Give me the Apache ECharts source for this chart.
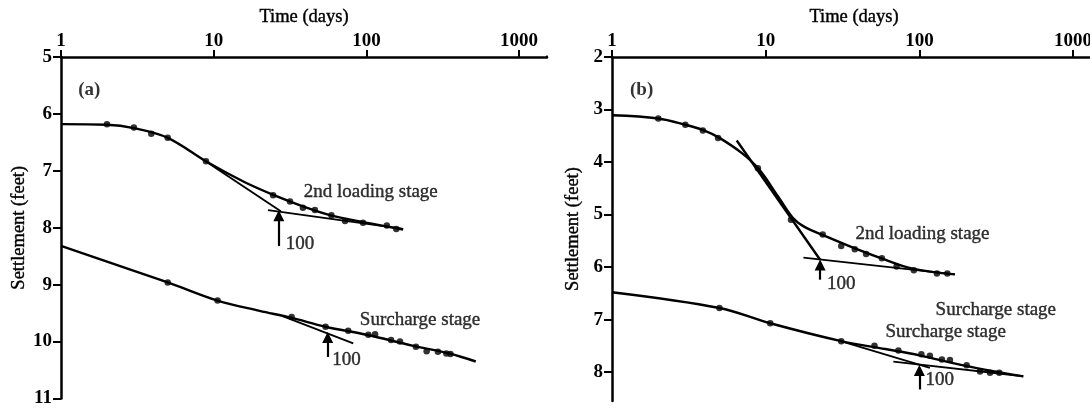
<!DOCTYPE html>
<html><head><meta charset="utf-8">
<script src="https://cdn.jsdelivr.net/npm/echarts@6/dist/echarts.min.js"></script>
<style>html,body{margin:0;padding:0;background:#fff;overflow:hidden}#c{width:1100px;height:408px}</style>
</head><body><div id="c"></div>
<script>
// ---------- Panel (a) ----------
const aUpperT = [2, 3, 3.9, 5, 8.9, 24.5, 31.6, 38.4, 46, 59, 72.5, 95, 136, 157];
const aUpperY = [6.18, 6.24, 6.35, 6.42, 6.83, 7.43, 7.54, 7.65, 7.69, 7.78, 7.88, 7.91, 7.96, 8.02];
const aUpperFitT = [1, 2, 3, 5, 9, 16, 25, 40, 60, 100, 174];
const aUpperFitY = [6.18, 6.19, 6.25, 6.42, 6.84, 7.2, 7.43, 7.64, 7.79, 7.91, 8.03];
const aUpperSteepT = [8.5, 27.5];
const aUpperSteepY = [6.80, 7.71];
const aUpperFlatT = [22.7, 174];
const aUpperFlatY = [7.69, 8.02];

const aLowerT = [5, 10.6, 32.4, 54, 76, 103, 114, 145, 166, 211, 248, 294, 334, 355];
const aLowerY = [8.96, 9.28, 9.57, 9.74, 9.81, 9.88, 9.87, 9.97, 10.0, 10.09, 10.17, 10.18, 10.21, 10.22];
const aLowerFitT = [1, 5, 10.6, 20, 32, 54, 100, 200, 350, 520];
const aLowerFitY = [8.32, 8.96, 9.28, 9.46, 9.58, 9.74, 9.88, 10.07, 10.21, 10.35];
const aLowerSteepT = [28, 82];
const aLowerSteepY = [9.55, 10.03];

// ---------- Panel (b) ----------
const bUpperT = [2, 3, 3.9, 4.9, 8.9, 14.6, 23.5, 31, 38, 45, 57, 71, 92, 130, 152];
const bUpperY = [3.17, 3.29, 3.40, 3.54, 4.12, 5.10, 5.38, 5.60, 5.66, 5.75, 5.83, 5.99, 6.06, 6.12, 6.12];
const bUpperFitT = [1, 2, 3, 4, 5, 7, 9, 12, 15, 18, 24, 35, 55, 90, 170];
const bUpperFitY = [3.11, 3.17, 3.29, 3.40, 3.54, 3.83, 4.13, 4.65, 5.06, 5.24, 5.40, 5.60, 5.82, 6.03, 6.14];
const bUpperSteepT = [6.48, 22.6];
const bUpperSteepY = [3.59, 5.86];
const bUpperFlatT = [17.6, 170];
const bUpperFlatY = [5.82, 6.14];

const bLowerT = [5, 10.7, 31, 51, 73, 103, 117, 140, 158, 203, 248, 288, 331];
const bLowerY = [6.78, 7.07, 7.41, 7.50, 7.59, 7.66, 7.69, 7.76, 7.77, 7.87, 7.99, 8.01, 8.01];
const bLowerFitT = [1, 5, 10.7, 31, 60, 100, 200, 474];
const bLowerFitY = [6.48, 6.78, 7.07, 7.41, 7.56, 7.68, 7.88, 8.08];
const bLowerSteepT = [30.8, 117];
const bLowerSteepY = [7.41, 7.92];
const bLowerFlatT = [67.7, 474];
const bLowerFlatY = [7.80, 8.08];

// ---------- Text annotations (text, time, settlement, bold) ----------
const aNotes = [
  ['(a)', 1.285, 5.58, true],
  ['2nd loading stage', 38.6, 7.37, false],
  ['100', 29.4, 8.29, false],
  ['Surcharge stage', 89.9, 9.62, false],
  ['100', 59.3, 10.32, false]
];
const bNotes = [
  ['(b)', 1.3, 2.63, true],
  ['2nd loading stage', 38.1, 5.38, false],
  ['100', 24.9, 6.32, false],
  ['Surcharge stage', 126.5, 6.82, false],
  ['Surcharge stage', 59.7, 7.23, false],
  ['100', 108.7, 8.15, false]
];
// arrows: time, tail settlement, arrow-head centre settlement
const aArrows = [[26.7, 8.32, 7.79], [55.8, 10.27, 9.93]];
const bArrows = [[22.6, 6.24, 5.96], [100, 8.33, 7.97]];

const xTickLabels = ['1', '10', '100', '1000'];
const aYTicks = [5, 6, 7, 8, 9, 10, 11];
const bYTicks = [2, 3, 4, 5, 6, 7, 8];
const aYRange = [5, 11];
const bYRange = [2, 8.55];

// ---------- build ----------
const FONT = '"Liberation Serif", "Times New Roman", serif';
const pairs = (ts, ys) => ts.map((t, i) => [t, ys[i]]);
const aXMax = Math.pow(10, 486 / 152.7);
const bXMax = Math.pow(10, 484 / 153.7);

function xAxisFor(g, max) {
  return {
    type: 'log', logBase: 10, gridIndex: g, position: 'top', min: 1, max: max,
    name: 'Time (days)', nameLocation: 'middle', nameGap: 27,
    nameTextStyle: {fontFamily: FONT, fontSize: 18.5, color: '#000', textBorderColor: '#000', textBorderWidth: 0.4},
    axisLine: {show: true, lineStyle: {color: '#000', width: 2.5}},
    axisTick: {show: true, inside: false, length: 7, lineStyle: {color: '#000', width: 2}},
    minorTick: {show: false},
    splitLine: {show: false},
    axisLabel: {
      fontFamily: FONT, fontSize: 19, fontWeight: 'bold', color: '#000', margin: 6,
      formatter: v => {
        const l = Math.log10(v);
        const r = Math.round(l);
        return Math.abs(l - r) < 1e-6 && xTickLabels[r] !== undefined ? xTickLabels[r] : '';
      }
    }
  };
}
function yAxisFor(g, range, ticks) {
  return {
    type: 'value', gridIndex: g, inverse: true, min: range[0], max: range[1], interval: 1,
    name: 'Settlement (feet)', nameLocation: 'middle', nameGap: 29, nameRotate: 90,
    nameTextStyle: {fontFamily: FONT, fontSize: 18.5, color: '#000', textBorderColor: '#000', textBorderWidth: 0.4},
    axisLine: {show: true, lineStyle: {color: '#000', width: 2.5}},
    axisTick: {show: true, inside: false, length: 8, customValues: ticks, lineStyle: {color: '#000', width: 2}},
    splitLine: {show: false},
    axisLabel: {
      fontFamily: FONT, fontSize: 19, fontWeight: 'bold', color: '#000', margin: 9,
      customValues: ticks,
      formatter: v => Math.abs(v - Math.round(v)) < 1e-6 ? String(Math.round(v)) : ''
    }
  };
}
function lineSeries(g, data, width, smooth) {
  return {
    type: 'line', xAxisIndex: g, yAxisIndex: g, data: data, smooth: smooth || false,
    showSymbol: false, symbol: 'none', silent: true,
    lineStyle: {color: '#000', width: width}, itemStyle: {color: '#000'}, z: 3
  };
}
function pointSeries(g, data, arrows) {
  return {
    type: 'scatter', xAxisIndex: g, yAxisIndex: g, data: data, symbol: 'circle',
    symbolSize: 6.5, itemStyle: {color: '#000'}, silent: true, z: 4,
    markLine: arrows ? {
      silent: true, symbol: ['none', 'triangle'], symbolSize: 11, animation: false,
      label: {show: false},
      lineStyle: {color: '#000', width: 2.2, type: 'solid'},
      data: arrows.map(a => [{coord: [a[0], a[1]]}, {coord: [a[0], a[2]]}])
    } : undefined
  };
}
function noteSeries(g, notes) {
  return {
    type: 'scatter', xAxisIndex: g, yAxisIndex: g, symbolSize: 1, silent: true,
    itemStyle: {color: 'rgba(0,0,0,0)'}, z: 5,
    data: notes.map(n => ({
      value: [n[1], n[2]], name: n[0],
      label: {show: true, position: 'right', distance: 0, formatter: '{b}',
        fontFamily: FONT, fontSize: 19, color: '#000', fontWeight: n[3] ? 'bold' : 'normal',
        textBorderColor: '#000', textBorderWidth: n[3] ? 0 : 0.4}
    }))
  };
}

const option = {
  animation: false,
  backgroundColor: '#fff',
  grid: [
    {left: 61, top: 57, width: 486, height: 342},
    {left: 612, top: 57, width: 484, height: 344}
  ],
  xAxis: [xAxisFor(0, aXMax), xAxisFor(1, bXMax)],
  yAxis: [yAxisFor(0, aYRange, aYTicks), yAxisFor(1, bYRange, bYTicks)],
  series: [
    lineSeries(0, pairs(aUpperFitT, aUpperFitY), 2.4, 0.35),
    lineSeries(0, pairs(aUpperSteepT, aUpperSteepY), 1.9),
    lineSeries(0, pairs(aUpperFlatT, aUpperFlatY), 1.9),
    pointSeries(0, pairs(aUpperT, aUpperY), aArrows),
    lineSeries(0, pairs(aLowerFitT, aLowerFitY), 2.4, 0.35),
    lineSeries(0, pairs(aLowerSteepT, aLowerSteepY), 1.9),
    pointSeries(0, pairs(aLowerT, aLowerY)),
    noteSeries(0, aNotes),

    lineSeries(1, pairs(bUpperFitT, bUpperFitY), 2.4, 0.35),
    lineSeries(1, pairs(bUpperSteepT, bUpperSteepY), 2.4),
    lineSeries(1, pairs(bUpperFlatT, bUpperFlatY), 1.9),
    pointSeries(1, pairs(bUpperT, bUpperY), bArrows),
    lineSeries(1, pairs(bLowerFitT, bLowerFitY), 2.4, 0.35),
    lineSeries(1, pairs(bLowerSteepT, bLowerSteepY), 1.9),
    lineSeries(1, pairs(bLowerFlatT, bLowerFlatY), 1.9),
    pointSeries(1, pairs(bLowerT, bLowerY)),
    noteSeries(1, bNotes)
  ]
};
const chart = echarts.init(document.getElementById('c'), null, {renderer: 'canvas'});
chart.setOption(option);

// mask the automatic end-of-extent tick on panel (a)'s time axis
const endPt = chart.convertToPixel({xAxisIndex: 0, yAxisIndex: 0}, [aXMax, aYRange[0]]);
chart.setOption({graphic: [{
  type: 'rect', silent: true, z: 100,
  shape: {x: endPt[0] - 3, y: endPt[1] - 10, width: 6, height: 8.6},
  style: {fill: '#fff'}
}]});
</script>
</body></html>
